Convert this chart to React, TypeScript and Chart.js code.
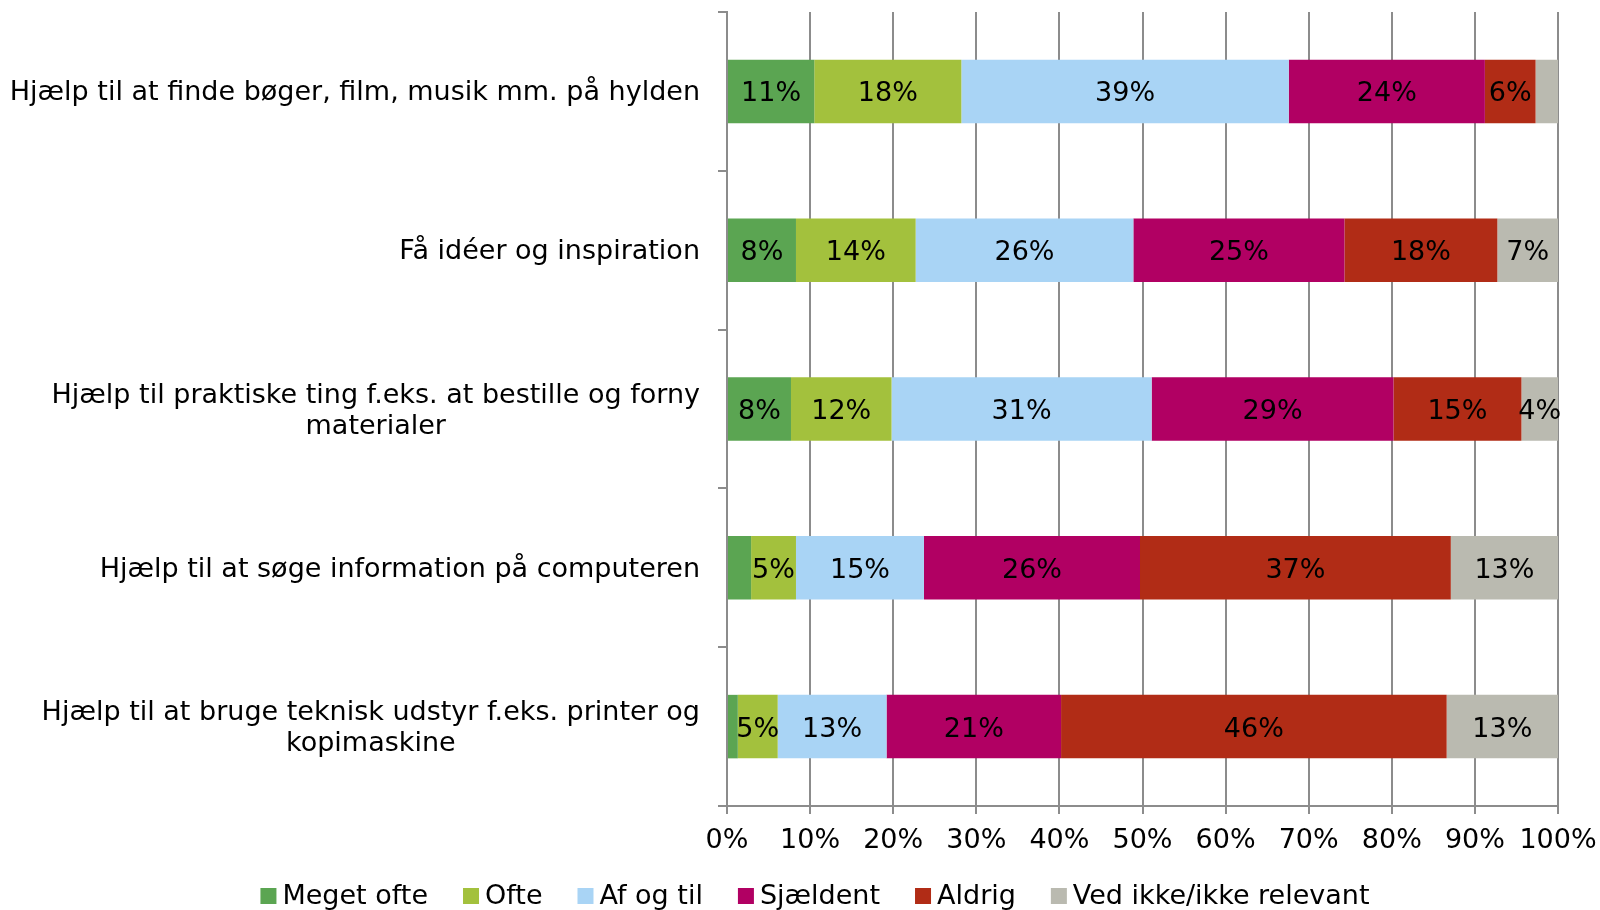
import React, { useEffect, useRef } from 'react';
import { Chart, registerables } from 'chart.js';

Chart.register(...registerables);

const categories: (string | string[])[] = [
  'Hjælp til at finde bøger, film, musik mm. på hylden',
  'Få idéer og inspiration',
  ['Hjælp til praktiske ting f.eks. at bestille og forny', 'materialer'],
  'Hjælp til at søge information på computeren',
  ['Hjælp til at bruge teknisk udstyr f.eks. printer og', 'kopimaskine'],
];

const seriesNames = ['Meget ofte', 'Ofte', 'Af og til', 'Sjældent', 'Aldrig', 'Ved ikke/ikke relevant'];
const seriesColors = ['#5BA552', '#A3C13D', '#A9D4F5', '#B10063', '#B12C16', '#BABAB0'];

const megetOfte = [10.5, 8.3, 7.7, 2.9, 1.3];
const ofte = [17.7, 14.4, 12.1, 5.4, 4.8];
const afOgTil = [39.4, 26.2, 31.3, 15.4, 13.1];
const sjaeldent = [23.6, 25.4, 29.1, 26.0, 21.0];
const aldrig = [6.1, 18.4, 15.4, 37.4, 46.4];
const vedIkke = [2.7, 7.3, 4.4, 12.9, 13.4];

const seriesValues = [megetOfte, ofte, afOgTil, sjaeldent, aldrig, vedIkke];

const xTickValues = [0, 10, 20, 30, 40, 50, 60, 70, 80, 90, 100];

const FONT = '"DejaVu Sans", Verdana, sans-serif';
const FONT_SIZE = 27;
const GRID = '#8c8c8c';
const LABEL_MIN = 3.5;

const dataLabelPlugin = {
  id: 'dataLabels',
  afterDatasetsDraw(chart: any) {
    const ctx = chart.ctx;
    ctx.save();
    ctx.font = `${FONT_SIZE}px ${FONT}`;
    ctx.fillStyle = '#000';
    ctx.textAlign = 'center';
    ctx.textBaseline = 'middle';
    chart.data.datasets.forEach((ds: any, di: number) => {
      const meta = chart.getDatasetMeta(di);
      meta.data.forEach((el: any, i: number) => {
        const v = ds.data[i];
        if (v < LABEL_MIN) return;
        const cx = (el.x + el.base) / 2;
        ctx.fillText(Math.round(v) + '%', cx, el.y + 3);
      });
    });
    ctx.restore();
  },
};

const categoryLabelPlugin = {
  id: 'categoryLabels',
  afterDraw(chart: any) {
    const ctx = chart.ctx;
    const y = chart.scales.y;
    const right = y.right - 27;
    ctx.save();
    ctx.font = `${FONT_SIZE}px ${FONT}`;
    ctx.fillStyle = '#000';
    ctx.textAlign = 'center';
    ctx.textBaseline = 'middle';
    (chart.data.labels as any[]).forEach((lab, i) => {
      const lines: string[] = Array.isArray(lab) ? lab : [lab];
      const w = Math.max(...lines.map((l) => ctx.measureText(l).width));
      const cx = right - w / 2;
      const cy = y.getPixelForValue(i) + 2;
      lines.forEach((l, k) => {
        ctx.fillText(l, cx, cy + (k - (lines.length - 1) / 2) * 31);
      });
    });
    ctx.restore();
  },
};

const legendPlugin = {
  id: 'customLegend',
  afterDraw(chart: any) {
    const ctx = chart.ctx;
    ctx.save();
    ctx.font = `${FONT_SIZE}px ${FONT}`;
    ctx.textBaseline = 'middle';
    ctx.textAlign = 'left';
    const box = 16;
    const gapText = 6;
    const gapItem = 35;
    const items = chart.data.datasets.map((ds: any) => ({
      label: ds.label,
      color: ds.backgroundColor,
      w: ctx.measureText(ds.label).width,
    }));
    const total =
      items.reduce((s: number, it: any) => s + box + gapText + it.w, 0) + gapItem * (items.length - 1);
    let x = 815 - total / 2;
    const cy = 896;
    items.forEach((it: any) => {
      ctx.fillStyle = it.color;
      ctx.fillRect(x, cy - box / 2, box, box);
      ctx.fillStyle = '#000';
      ctx.fillText(it.label, x + box + gapText, cy + 1);
      x += box + gapText + it.w + gapItem;
    });
    ctx.restore();
  },
};

export default function App() {
  const ref = useRef<HTMLCanvasElement>(null);
  useEffect(() => {
    if (!ref.current) return;
    const chart = new Chart(ref.current, {
      type: 'bar',
      data: {
        labels: categories as any,
        datasets: seriesNames.map((name, i) => ({
          label: name,
          data: seriesValues[i],
          backgroundColor: seriesColors[i],
          borderWidth: 0,
          barPercentage: 0.4,
          categoryPercentage: 1.0,
        })),
      },
      options: {
        indexAxis: 'y',
        responsive: false,
        animation: false,
        devicePixelRatio: 1,
        layout: { padding: { top: 12, right: 42, bottom: 0, left: 0 } },
        plugins: {
          legend: { display: false },
          tooltip: { enabled: false },
        },
        scales: {
          x: {
            type: 'linear',
            stacked: true,
            min: 0,
            max: 100,
            afterBuildTicks: (s: any) => {
              s.ticks = xTickValues.map((v) => ({ value: v }));
            },
            ticks: {
              callback: (v: any) => v + '%',
              font: { family: FONT, size: FONT_SIZE },
              color: '#000',
              padding: 11,
              maxRotation: 0,
              autoSkip: false,
            },
            grid: { color: GRID, lineWidth: 2, tickLength: 8, tickColor: GRID, drawTicks: true },
            border: { color: GRID, width: 2 },
            afterFit: (s: any) => {
              s.height = 104;
              s.paddingLeft = 0;
              s.paddingRight = 0;
            },
          },
          y: {
            type: 'category',
            stacked: true,
            offset: true,
            ticks: { display: false },
            grid: { offset: true, drawOnChartArea: false, tickLength: 9, color: GRID, lineWidth: 2 },
            border: { color: GRID, width: 2 },
            afterFit: (s: any) => {
              s.width = 727;
            },
          },
        },
      } as any,
      plugins: [dataLabelPlugin, categoryLabelPlugin, legendPlugin],
    });
    return () => chart.destroy();
  }, []);
  return (
    <div style={{ position: 'absolute', left: 0, top: 0, width: 1600, height: 910, background: '#fff' }}>
      <canvas ref={ref} width={1600} height={910} style={{ display: 'block' }} />
    </div>
  );
}
